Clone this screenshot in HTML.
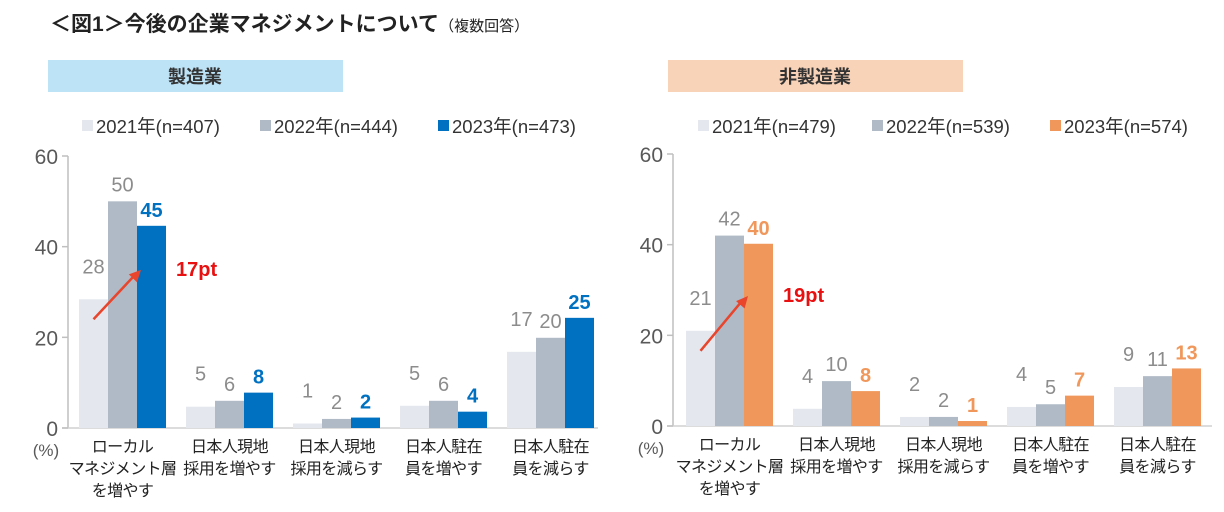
<!DOCTYPE html>
<html><head><meta charset="utf-8">
<style>
body{margin:0;background:#fff;width:1224px;height:512px;overflow:hidden;font-family:"Liberation Sans","Noto Sans CJK JP",sans-serif;}
svg{position:absolute;left:0;top:0}
</style></head>
<body>
<svg id="chart" width="1224" height="512" xmlns="http://www.w3.org/2000/svg">
<text x="50" y="31" font-size="21" font-weight="bold" fill="#222">＜図1＞今後の企業マネジメントについて<tspan font-size="15" font-weight="normal">（複数回答）</tspan></text>
<rect x="48" y="60" width="295" height="32" fill="#bde3f7"/>
<text x="195" y="83" font-size="18" font-weight="bold" fill="#333" text-anchor="middle">製造業</text>
<rect x="668" y="60" width="295" height="32" fill="#f8d3b8"/>
<text x="815" y="83" font-size="18" font-weight="bold" fill="#333" text-anchor="middle">非製造業</text>
</svg>
<script>
const categories = ["ローカル|マネジメント層|を増やす","日本人現地|採用を増やす","日本人現地|採用を減らす","日本人駐在|員を増やす","日本人駐在|員を減らす"];
const leftLegend = ["2021年(n=407)","2022年(n=444)","2023年(n=473)"];
const rightLegend = ["2021年(n=479)","2022年(n=539)","2023年(n=574)"];
const left2021 = [28.4,4.7,1.0,4.9,16.8];
const left2022 = [50,6.0,2.0,6.0,19.9];
const left2023 = [44.6,7.8,2.3,3.6,24.3];
const leftLabels2021 = ["28","5","1","5","17"];
const leftLabels2022 = ["50","6","2","6","20"];
const leftLabels2023 = ["45","8","2","4","25"];
const right2021 = [21,3.8,2.0,4.2,8.6];
const right2022 = [42,9.9,2.0,4.8,11];
const right2023 = [40.2,7.7,1.1,6.7,12.7];
const rightLabels2021 = ["21","4","2","4","9"];
const rightLabels2022 = ["42","10","2","5","11"];
const rightLabels2023 = ["40","8","1","7","13"];
const yTicks = [0,20,40,60];

const svg = document.getElementById('chart');
const NS = 'http://www.w3.org/2000/svg';
function mk(tag, attrs, text){const e=document.createElementNS(NS,tag);for(const k in attrs)e.setAttribute(k,attrs[k]);if(text!==undefined)e.textContent=text;svg.appendChild(e);return e;}

function drawChart(cfg){
  const y = v => cfg.y0 - v*(cfg.y0-cfg.y60)/60;
  const bx = (g,s) => cfg.gx0 + g*cfg.pitch + s*cfg.bw;
  let e = mk('line',{x1:cfg.ax,x2:cfg.ax,y1:y(60),y2:cfg.y0,stroke:'#bfbfbf','stroke-width':1.5});
   
  e = mk('line',{x1:cfg.ax-6,x2:cfg.xr,y1:cfg.y0,y2:cfg.y0,stroke:'#d0d0d0','stroke-width':1.5});
   
  yTicks.forEach(t=>{
    const l = mk('line',{x1:cfg.ax-6,x2:cfg.ax,y1:y(t),y2:y(t),stroke:'#bfbfbf','stroke-width':1.5});
     
    const tx = mk('text',{x:cfg.ax-10,y:y(t)+8,'font-size':21,fill:'#595959','text-anchor':'end'},String(t));
     
  });
  e = mk('text',{x:cfg.ax-22,y:cfg.y0+28,'font-size':17,fill:'#595959','text-anchor':'middle'},'(%)');
   
  const colors = ['#e4e8ee','#afbac6',cfg.c3];
  const series = [cfg.s1,cfg.s2,cfg.s3];
  const labels = [cfg.l1,cfg.l2,cfg.l3];
  categories.forEach((c,g)=>{
    series.forEach((s,si)=>{
      const r = mk('rect',{x:bx(g,si),y:y(s[g]),width:cfg.bw,height:cfg.y0-y(s[g]),fill:colors[si]});
       
      const t = mk('text',{x:bx(g,si)+cfg.bw/2,y:y(s[g])-(si===2?9:10)-(si===0?16:0),'font-size':20,'font-weight':si===2?'bold':'normal',fill:si===2?cfg.c3lab:'#8c8c8c','text-anchor':'middle'},labels[si][g]);
       
    });
    const cx = bx(g,1.5);
    c.split('|').forEach((line,li)=>{
      const t = mk('text',{x:cx,y:cfg.y0+24+li*22,'font-size':16,'letter-spacing':-0.6,fill:'#222','text-anchor':'middle'},line);
       
    });
  });
  cfg.legend.forEach((lab,i)=>{
    const lx = cfg.legX[i];
    const r = mk('rect',{x:lx,y:120,width:11,height:11,fill:colors[i]});
     
    const t = mk('text',{x:lx+14,y:133,'font-size':18.5,fill:'#333'},lab);
     
  });
  const x1=bx(0,0)+cfg.bw*0.5, y1=y(cfg.s1[0])+20, x2=bx(0,2)+4, y2=y(cfg.s1[0]+(cfg.s3[0]-cfg.s1[0])*0.4);
  const ln = mk('line',{x1:x1,y1:y1,x2:x2-6,y2:y2+5,stroke:'#e8452c','stroke-width':2.5});
   
  const ang = Math.atan2(y2-y1,x2-x1);
  const pts = [[x2,y2],[x2-13*Math.cos(ang-0.45),y2-13*Math.sin(ang-0.45)],[x2-13*Math.cos(ang+0.45),y2-13*Math.sin(ang+0.45)]];
  const ah = mk('polygon',{points:pts.map(p=>p.join(',')).join(' '),fill:'#e8452c'});
   
  const pt = mk('text',{x:bx(1,0)-10,y:y2+6,'font-size':20,'font-weight':'bold',fill:'#e81010'},(parseInt(cfg.l3[0])-parseInt(cfg.l1[0]))+'pt');
   
}

drawChart({p:'manufacturing',ax:68,xr:598,y0:428,y60:156,gx0:79,pitch:107,bw:29,c3:'#0070c0',c3lab:'#0070c0',
  s1:left2021,s2:left2022,s3:left2023,l1:leftLabels2021,l2:leftLabels2022,l3:leftLabels2023,legend:leftLegend,legX:[82,260,438]});
drawChart({p:'non-manufacturing',ax:673,xr:1212,y0:426,y60:154,gx0:686,pitch:107,bw:29,c3:'#f0985c',c3lab:'#f0985c',
  s1:right2021,s2:right2022,s3:right2023,l1:rightLabels2021,l2:rightLabels2022,l3:rightLabels2023,legend:rightLegend,legX:[698,872,1050]});
</script>
</body></html>
